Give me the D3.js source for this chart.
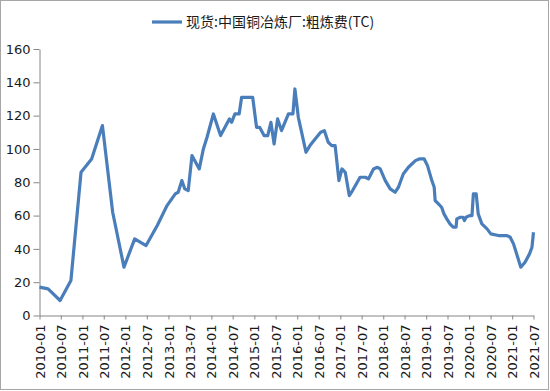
<!DOCTYPE html>
<html>
<head>
<meta charset="utf-8">
<script src="https://cdn.jsdelivr.net/npm/d3@7"></script>
<style>
  body { margin: 0; background: #fff; }
  svg { display: block; }
</style>
</head>
<body>
<script>
// 现货:中国铜冶炼厂:粗炼费(TC)
var dates = [
  "2010-01-01", "2010-03-15", "2010-06-25", "2010-09-25", "2010-12-20",
  "2011-03-20", "2011-06-20", "2011-09-15", "2011-12-20", "2012-03-20",
  "2012-06-25", "2012-09-28", "2012-12-20", "2013-02-28", "2013-03-25",
  "2013-04-25", "2013-05-20", "2013-06-18", "2013-07-20", "2013-09-20",
  "2013-10-25", "2013-11-25", "2014-01-18", "2014-03-20", "2014-06-03",
  "2014-06-22", "2014-07-20", "2014-08-25", "2014-09-15", "2014-12-18",
  "2015-01-20", "2015-02-15", "2015-03-25", "2015-04-25", "2015-05-22",
  "2015-06-18", "2015-07-18", "2015-08-20", "2015-10-18", "2015-11-25",
  "2015-12-12", "2016-01-10", "2016-02-10", "2016-03-15", "2016-04-18",
  "2016-06-01", "2016-07-18", "2016-08-18", "2016-09-20", "2016-10-20",
  "2016-11-18", "2016-12-20", "2017-01-15", "2017-02-12", "2017-03-18",
  "2017-04-15", "2017-06-18", "2017-08-01", "2017-08-28", "2017-10-10",
  "2017-11-12", "2017-12-06", "2018-01-18", "2018-03-01", "2018-04-12",
  "2018-05-10", "2018-06-20", "2018-08-03", "2018-10-01", "2018-11-03",
  "2018-12-15", "2019-01-12", "2019-02-18", "2019-03-10", "2019-03-18",
  "2019-04-15", "2019-05-12", "2019-06-01", "2019-06-25", "2019-07-22",
  "2019-08-18", "2019-09-12", "2019-09-18", "2019-10-18", "2019-11-10",
  "2019-11-22", "2019-12-06", "2020-01-04", "2020-01-25", "2020-02-06",
  "2020-03-01", "2020-03-18", "2020-04-18", "2020-06-01", "2020-07-03",
  "2020-09-06", "2020-11-18", "2020-12-15", "2021-01-12", "2021-02-12",
  "2021-03-15", "2021-04-20", "2021-05-28", "2021-06-18", "2021-07-01"
];
var tc = [
  17, 16, 9, 21, 86,
  94, 114, 62, 29, 46,
  42, 54, 66, 73, 74,
  81, 76, 75, 96, 88,
  100, 107, 121, 108, 118,
  116, 121, 121, 131, 131,
  113, 113, 108, 108, 116,
  103, 118, 111, 121, 121,
  136, 119, 109, 98, 102,
  106, 110, 111, 104, 102,
  102, 81, 88, 86, 72,
  75, 83, 83, 82, 88,
  89, 88, 81, 76, 74,
  77, 85, 89, 93, 94,
  94, 90, 81, 77, 69,
  67, 65, 61, 58, 55,
  53, 53, 58, 59, 59,
  57, 59, 60, 60, 73,
  73, 61, 55, 52, 49,
  48, 48, 47, 43, 36,
  29, 32, 37, 41, 50
];
var yTicks = [0, 20, 40, 60, 80, 100, 120, 140, 160];
var seriesName = "现货:中国铜冶炼厂:粗炼费(TC)";

var parse = d3.timeParse("%Y-%m-%d");
var data = dates.map(function (d, i) {
    return { date: parse(d), value: tc[i] };
});

var W = 550, H = 391;
var plotL = 39.5, plotR = 533.5, plotT = 49, plotB = 315.5;

var svg = d3.select("body").append("svg")
    .attr("width", W)
    .attr("height", H);

svg.append("rect")
    .attr("x", 0.5).attr("y", 0.5)
    .attr("width", W - 2).attr("height", H - 2)
    .attr("fill", "#fff")
    .attr("stroke", "#a6a6a6");

var x = d3.scaleTime()
    .domain([parse("2010-01-01"), parse("2021-07-01")])
    .range([plotL, plotR]);

var y = d3.scaleLinear()
    .domain([0, 160])
    .range([plotB, plotT]);

var xTicks = d3.timeMonth.every(6).range(parse("2010-01-01"), parse("2021-07-02"));

// y axis
var yAxis = svg.append("g")
    .attr("transform", "translate(" + plotL + ",0)")
    .call(d3.axisLeft(y).tickValues(yTicks).tickSize(6).tickSizeOuter(0).tickPadding(3));

// x axis
var xAxis = svg.append("g")
    .attr("transform", "translate(0," + plotB + ")")
    .call(d3.axisBottom(x).tickValues(xTicks).tickFormat(d3.timeFormat("%Y-%m")).tickSize(4).tickSizeOuter(0));

[yAxis, xAxis].forEach(function (a) {
    a.select(".domain").attr("stroke", "#868686");
    a.selectAll(".tick line").attr("stroke", "#868686");
    a.selectAll("text")
        .attr("fill", "#1a1a1a")
        .style("font-family", "'DejaVu Sans', sans-serif");
});
yAxis.selectAll("text").style("font-size", "13px");
xAxis.selectAll("text")
    .style("font-size", "13px")
    .attr("transform", "rotate(-90)")
    .attr("text-anchor", "end")
    .attr("x", -9)
    .attr("y", 0)
    .attr("dy", "0.35em");

// series
svg.append("path")
    .datum(data)
    .attr("fill", "none")
    .attr("stroke", "#4a7ebb")
    .attr("stroke-width", 3.2)
    .attr("stroke-linejoin", "round")
    .attr("d", d3.line()
        .x(function (d) { return x(d.date); })
        .y(function (d) { return y(d.value); }));

// legend
var legend = svg.append("g");
legend.append("line")
    .attr("x1", 152).attr("x2", 182)
    .attr("y1", 22).attr("y2", 22)
    .attr("stroke", "#4a7ebb")
    .attr("stroke-width", 3.2);
legend.append("text")
    .attr("x", 186).attr("y", 22)
    .attr("dy", "0.35em")
    .attr("fill", "#1a1a1a")
    .style("font-family", "'Noto Sans CJK SC', sans-serif")
    .style("font-size", "14px")
    .text(seriesName);
</script>
</body>
</html>
